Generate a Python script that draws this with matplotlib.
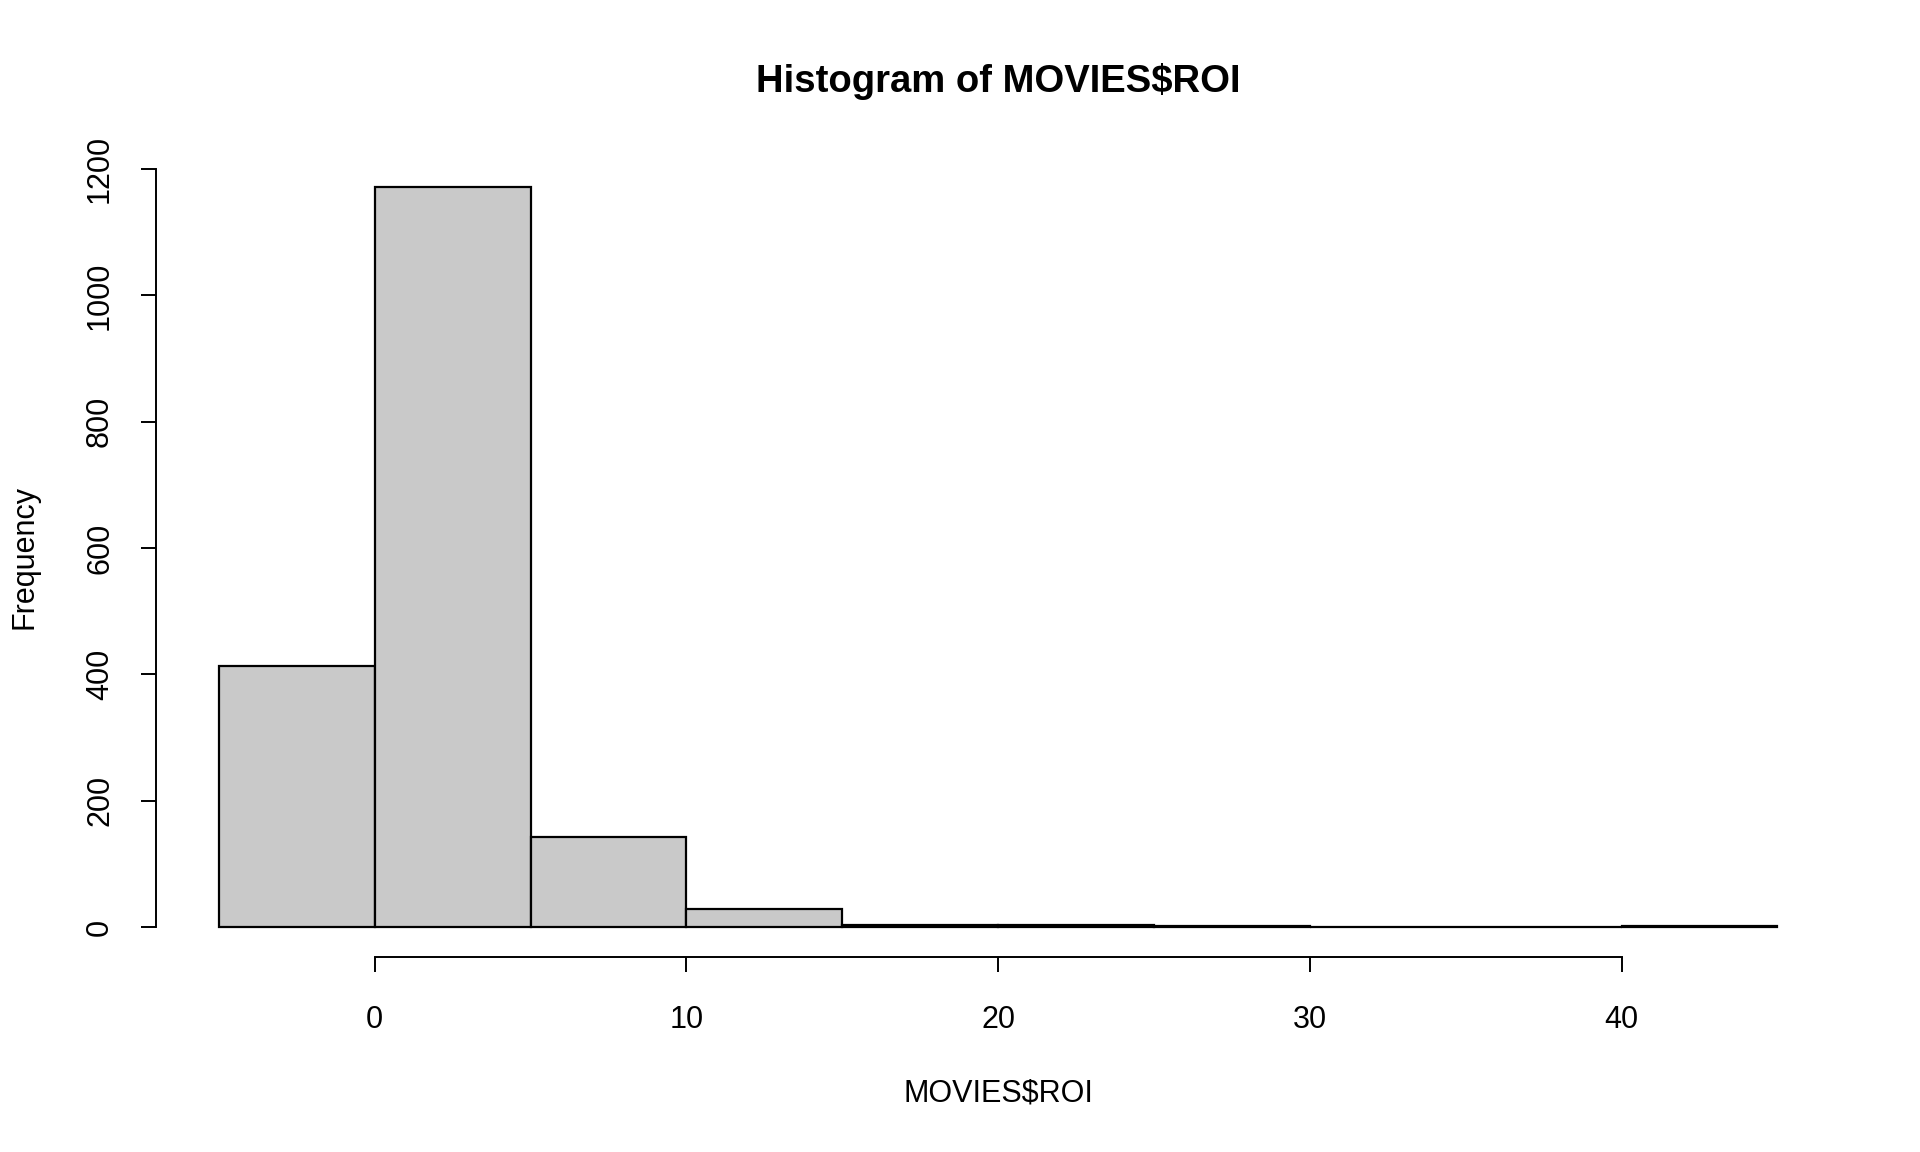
import matplotlib.pyplot as plt
import numpy as np

# classes do histograma (limites) e frequencias
bordas = [-5, 0, 5, 10, 15, 20, 25, 30, 35, 40, 45]
frequencias = [413, 1171, 143, 29, 4, 4, 2, 0, 0, 1]
x_ticks = [0, 10, 20, 30, 40]
y_ticks = [0, 200, 400, 600, 800, 1000, 1200]

plt.rcParams['font.family'] = ['Liberation Sans', 'DejaVu Sans']

fig = plt.figure(figsize=(19.2, 11.52), dpi=100)
ax = fig.add_axes([0.0815, 0.1696, 0.8767, 0.6934])

largura = np.diff(bordas)
ax.bar(bordas[:-1], frequencias, width=largura, align='edge',
       color='#c9c9c9', edgecolor='black', linewidth=1.6)

ax.set_xlim(-7, 47)
ax.set_ylim(-46.8, 1217.8)

ax.spines['top'].set_visible(False)
ax.spines['right'].set_visible(False)
ax.spines['left'].set_bounds(0, 1200)
ax.spines['bottom'].set_bounds(0, 40)
ax.spines['left'].set_linewidth(1.4)
ax.spines['bottom'].set_linewidth(1.4)

ax.set_xticks(x_ticks)
ax.set_yticks(y_ticks)
ax.set_yticklabels([str(v) for v in y_ticks], rotation=90, va='center')
ax.tick_params(axis='both', length=10.8, width=1.4, labelsize=22)
ax.tick_params(axis='x', pad=24)
ax.tick_params(axis='y', pad=19)

fig.text(0.52, 0.929, 'Histogram of MOVIES$ROI', ha='center', va='center',
         fontsize=27.5, fontweight='bold')
fig.text(0.52, 0.051, 'MOVIES$ROI', ha='center', va='center', fontsize=22)
fig.text(0.0128, 0.5165, 'Frequency', ha='center', va='center',
         rotation=90, fontsize=22)

fig.savefig('out.png', dpi=100)
